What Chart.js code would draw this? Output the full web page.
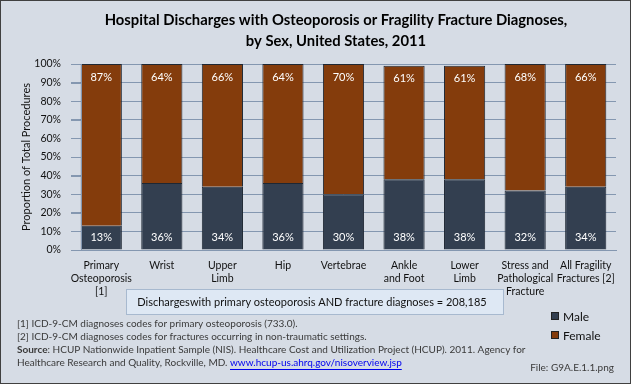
<!DOCTYPE html>
<html>
<head>
<meta charset="utf-8">
<script src="https://cdn.jsdelivr.net/npm/chart.js@4.4.0/dist/chart.umd.min.js"></script>
<style>
  html, body { margin: 0; padding: 0; background: #d6dce5; }
  #wrap { width: 631px; height: 384px; position: relative; }
</style>
</head>
<body>
<div id="wrap"><canvas id="chart" width="631" height="384"></canvas></div>
<script>
// chart data
const categories = [
    ['Primary', 'Osteoporosis', '[1]'],
    'Wrist',
    ['Upper', 'Limb'],
    'Hip',
    'Vertebrae',
    ['Ankle', 'and Foot'],
    ['Lower', 'Limb'],
    ['Stress and', 'Pathological', 'Fracture'],
    ['All Fragility', 'Fractures [2]']
];
const maleShare = [13, 36, 34, 36, 30, 38, 38, 32, 34];
const femaleShare = [87, 64, 66, 64, 70, 61, 61, 68, 66];
const yTickValues = [0, 10, 20, 30, 40, 50, 60, 70, 80, 90, 100];

const titleLines = [
    'Hospital Discharges with Osteoporosis or Fragility Fracture Diagnoses,',
    'by Sex, United States, 2011'
];
const noteBoxText = 'Dischargeswith primary osteoporosis AND fracture diagnoses = 208,185';
const footnotes = [
    '[1] ICD-9-CM diagnoses codes for primary osteoporosis (733.0).',
    '[2] ICD-9-CM diagnoses codes for fractures occurring in non-traumatic settings.'
];
const sourceText = ': HCUP Nationwide Inpatient Sample (NIS). Healthcare Cost and Utilization Project (HCUP). 2011. Agency for';
const sourceText2 = 'Healthcare Research and Quality, Rockville, MD. ';
const sourceLink = 'www.hcup-us.ahrq.gov/nisoverview.jsp';
const fileText = 'File: G9A.E.1.1.png';

const FONT = 'Lato, "Open Sans", sans-serif';
const MALE = '#333f50';
const FEMALE = '#843c0c';
const GRID = '#8497b0';

const frame = {
    id: 'frame',
    beforeDraw(chart) {
        const ctx = chart.ctx;
        ctx.save();
        ctx.fillStyle = '#d6dce5';
        ctx.fillRect(0, 0, chart.width, chart.height);
        ctx.strokeStyle = '#404040';
        ctx.lineWidth = 1;
        ctx.strokeRect(0.5, 0.5, chart.width - 1, chart.height - 1);
        ctx.restore();
    },
    afterDatasetsDraw(chart) {
        const ctx = chart.ctx;
        const area = chart.chartArea;
        const bar = chart.getDatasetMeta(0).data[0];
        const axisX = Math.round(bar.x - bar.width / 2) + 0.5;
        const yScale = chart.scales.y;
        ctx.save();
        // y axis line along the first bar, with outside tick marks
        ctx.strokeStyle = GRID;
        ctx.lineWidth = 1;
        ctx.beginPath();
        ctx.moveTo(axisX, area.top);
        ctx.lineTo(axisX, area.bottom);
        yScale.ticks.forEach(t => {
            const y = Math.round(yScale.getPixelForValue(t.value)) + 0.5;
            ctx.moveTo(area.left, y);
            ctx.lineTo(axisX, y);
        });
        ctx.stroke();

        // value labels
        ctx.fillStyle = '#ffffff';
        ctx.font = '11px ' + FONT;
        ctx.textAlign = 'center';
        ctx.textBaseline = 'middle';
        chart.getDatasetMeta(0).data.forEach((el, i) => {
            ctx.fillText(maleShare[i] + '%', el.x, el.base - 12);
        });
        chart.getDatasetMeta(1).data.forEach((el, i) => {
            ctx.fillText(femaleShare[i] + '%', el.x, el.y + 13);
        });
        ctx.restore();
    },
    afterDraw(chart) {
        const ctx = chart.ctx;
        ctx.save();
        // title
        ctx.fillStyle = '#000000';
        ctx.font = 'bold 14.8px ' + FONT;
        ctx.textAlign = 'center';
        ctx.textBaseline = 'middle';
        ctx.fillText(titleLines[0], 336, 20);
        ctx.fillText(titleLines[1], 336, 41);

        // note box
        ctx.fillStyle = '#dee8f4';
        ctx.strokeStyle = '#a7b9cf';
        ctx.fillRect(126, 289, 377, 25);
        ctx.strokeRect(126.5, 289.5, 377, 25);
        ctx.fillStyle = '#111111';
        ctx.font = '11px ' + FONT;
        ctx.fillText(noteBoxText, 312, 302);

        // legend
        const items = chart.data.datasets;
        ctx.textAlign = 'left';
        ctx.font = '12px ' + FONT;
        items.forEach((ds, i) => {
            const y = 316 + i * 19;
            ctx.fillStyle = ds.backgroundColor;
            ctx.fillRect(551, y - 4, 8, 8);
            ctx.strokeStyle = '#222222';
            ctx.strokeRect(551.5, y - 3.5, 7, 7);
            ctx.fillStyle = '#111111';
            ctx.fillText(ds.label, 563, y + 1);
        });

        // footnotes
        ctx.fillStyle = '#3a3a3a';
        ctx.font = '10px ' + FONT;
        footnotes.forEach((t, i) => ctx.fillText(t, 17, 324 + i * 13));
        ctx.font = 'bold 10px ' + FONT;
        ctx.fillText('Source', 17, 350);
        const sw = ctx.measureText('Source').width;
        ctx.font = '10px ' + FONT;
        ctx.fillText(sourceText, 17 + sw, 350);
        ctx.fillText(sourceText2, 17, 363);
        const s2 = ctx.measureText(sourceText2).width;
        ctx.fillStyle = '#0000ee';
        ctx.fillText(sourceLink, 17 + s2, 363);
        const lw = ctx.measureText(sourceLink).width;
        ctx.strokeStyle = '#0000ee';
        ctx.beginPath();
        ctx.moveTo(17 + s2, 369.5);
        ctx.lineTo(17 + s2 + lw, 369.5);
        ctx.stroke();
        ctx.fillStyle = '#3a3a3a';
        ctx.textAlign = 'right';
        ctx.fillText(fileText, 614, 368);
        ctx.restore();
    }
};

new Chart(document.getElementById('chart'), {
    type: 'bar',
    plugins: [frame],
    data: {
        labels: categories,
        datasets: [
            {
                label: 'Male',
                data: maleShare,
                backgroundColor: MALE,
                borderColor: '#1e2733',
                borderWidth: 1,
                categoryPercentage: 1,
                barPercentage: 0.68
            },
            {
                label: 'Female',
                data: femaleShare,
                backgroundColor: FEMALE,
                borderColor: '#1e2733',
                borderWidth: 1,
                categoryPercentage: 1,
                barPercentage: 0.68
            }
        ]
    },
    options: {
        responsive: false,
        animation: false,
        layout: { padding: { top: 64, right: 15, left: 20, bottom: 0 } },
        plugins: {
            legend: { display: false },
            title: { display: false },
            tooltip: { enabled: false }
        },
        scales: {
            x: {
                stacked: true,
                afterFit(scale) { scale.height = 134; },
                grid: { display: false },
                border: { color: GRID },
                ticks: {
                    color: '#111111',
                    font: { family: FONT, size: 10.5, lineHeight: 1.24 },
                    padding: 1,
                    maxRotation: 0,
                    autoSkip: false
                }
            },
            y: {
                stacked: true,
                min: 0,
                max: 100,
                afterFit(scale) { scale.width = 51; },
                afterBuildTicks(scale) {
                    scale.ticks = yTickValues.map(v => ({ value: v }));
                },
                border: { display: false },
                grid: { color: GRID, drawTicks: false },
                ticks: {
                    color: '#111111',
                    font: { family: FONT, size: 10.5 },
                    padding: 10,
                    callback: v => v + '%'
                },
                title: {
                    display: true,
                    text: 'Proportion of Total Procedures',
                    color: '#111111',
                    font: { family: FONT, size: 11 },
                    padding: { top: 0, bottom: 0 }
                }
            }
        }
    }
});
</script>
</body>
</html>
